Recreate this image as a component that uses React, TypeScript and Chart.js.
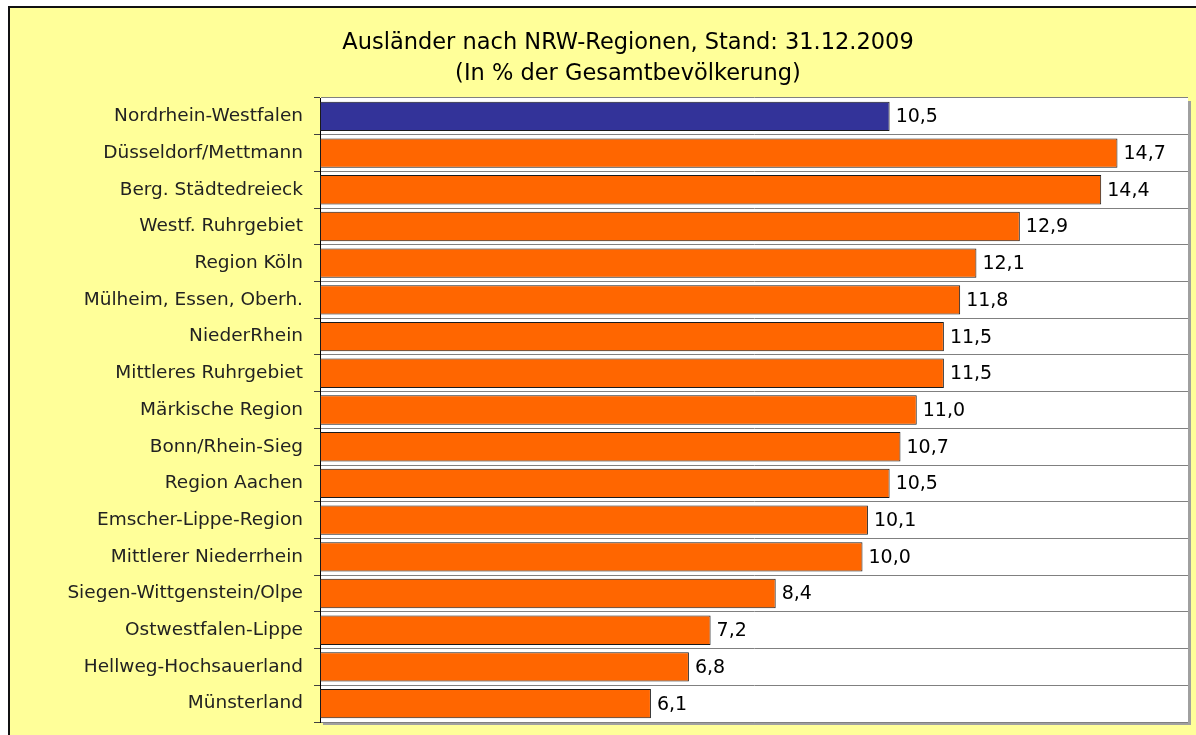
import React, { useEffect, useRef } from "react";
import { Chart, registerables } from "chart.js";

Chart.register(...registerables);

const titleLines = ["Ausländer nach NRW-Regionen, Stand: 31.12.2009", "(In % der Gesamtbevölkerung)"];

const regions = [
  "Nordrhein-Westfalen",
  "Düsseldorf/Mettmann",
  "Berg. Städtedreieck",
  "Westf. Ruhrgebiet",
  "Region Köln",
  "Mülheim, Essen, Oberh.",
  "NiederRhein",
  "Mittleres Ruhrgebiet",
  "Märkische Region",
  "Bonn/Rhein-Sieg",
  "Region Aachen",
  "Emscher-Lippe-Region",
  "Mittlerer Niederrhein",
  "Siegen-Wittgenstein/Olpe",
  "Ostwestfalen-Lippe",
  "Hellweg-Hochsauerland",
  "Münsterland",
];

const shares = [10.5, 14.7, 14.4, 12.9, 12.1, 11.8, 11.5, 11.5, 11.0, 10.7, 10.5, 10.1, 10.0, 8.4, 7.2, 6.8, 6.1];

const NRW_COLOR = "#333399";
const REGION_COLOR = "#FF6600";
const FONT = "'DejaVu Sans', sans-serif";

const plotBackground = {
  id: "plotBackground",
  beforeDraw(chart: any) {
    const { ctx, chartArea } = chart;
    const { left, top, right, bottom } = chartArea;
    ctx.save();
    ctx.fillStyle = "#A0A0A0";
    ctx.fillRect(left + 3, top + 3, right - left, bottom - top);
    ctx.fillStyle = "#FFFFFF";
    ctx.fillRect(left, top, right - left, bottom - top);
    ctx.restore();
  },
};

const valueLabels = {
  id: "valueLabels",
  afterDatasetsDraw(chart: any) {
    const { ctx } = chart;
    const meta = chart.getDatasetMeta(0);
    const data = chart.data.datasets[0].data as number[];
    ctx.save();
    ctx.font = `19px ${FONT}`;
    ctx.fillStyle = "#000000";
    ctx.textAlign = "left";
    ctx.textBaseline = "middle";
    meta.data.forEach((bar: any, i: number) => {
      const txt = data[i].toFixed(1).replace(".", ",");
      ctx.fillText(txt, bar.x + 6, bar.y + 1);
    });
    ctx.restore();
  },
};

export default function App() {
  const canvasRef = useRef<HTMLCanvasElement | null>(null);

  useEffect(() => {
    if (!canvasRef.current) return;
    const chart = new Chart(canvasRef.current, {
      type: "bar",
      data: {
        labels: regions,
        datasets: [
          {
            data: shares,
            backgroundColor: shares.map((_, i) => (i === 0 ? NRW_COLOR : REGION_COLOR)),
            borderColor: "#1a1a1a",
            borderWidth: 1,
            borderSkipped: false,
            barPercentage: 0.8,
            categoryPercentage: 1.0,
          },
        ],
      },
      options: {
        indexAxis: "y",
        responsive: false,
        animation: false,
        devicePixelRatio: 1,
        layout: { padding: { left: 58, right: 58, top: 0, bottom: 13 } },
        plugins: {
          legend: { display: false },
          tooltip: { enabled: false },
          title: {
            display: true,
            text: titleLines,
            color: "#000000",
            font: { family: FONT, size: 22.5, weight: "normal", lineHeight: 1.4 },
            padding: { top: 19, bottom: 8 },
          },
        },
        scales: {
          x: {
            display: false,
            min: 0,
            max: 16,
          },
          y: {
            afterFit(scale: any) {
              scale.width = 252;
              scale.paddingTop = 0;
              scale.paddingBottom = 0;
            },
            grid: {
              color: "#808080",
              offset: true,
              drawTicks: true,
              tickLength: 6,
              tickColor: "#404040",
            },
            border: { display: true, color: "#000000", width: 1 },
            ticks: {
              color: "#222222",
              padding: 11,
              font: { family: FONT, size: 18.5 },
            },
          },
        },
      },
      plugins: [plotBackground, valueLabels],
    });
    return () => chart.destroy();
  }, []);

  return (
    <div style={{ position: "fixed", inset: 0, overflow: "hidden", background: "#ffffff" }}>
      <div
        style={{
          position: "absolute",
          left: 8,
          top: 6,
          width: 1236,
          height: 740,
          border: "2px solid #111111",
          background: "#FFFF99",
        }}
      >
        <canvas ref={canvasRef} width={1236} height={727} style={{ display: "block" }} />
      </div>
    </div>
  );
}
